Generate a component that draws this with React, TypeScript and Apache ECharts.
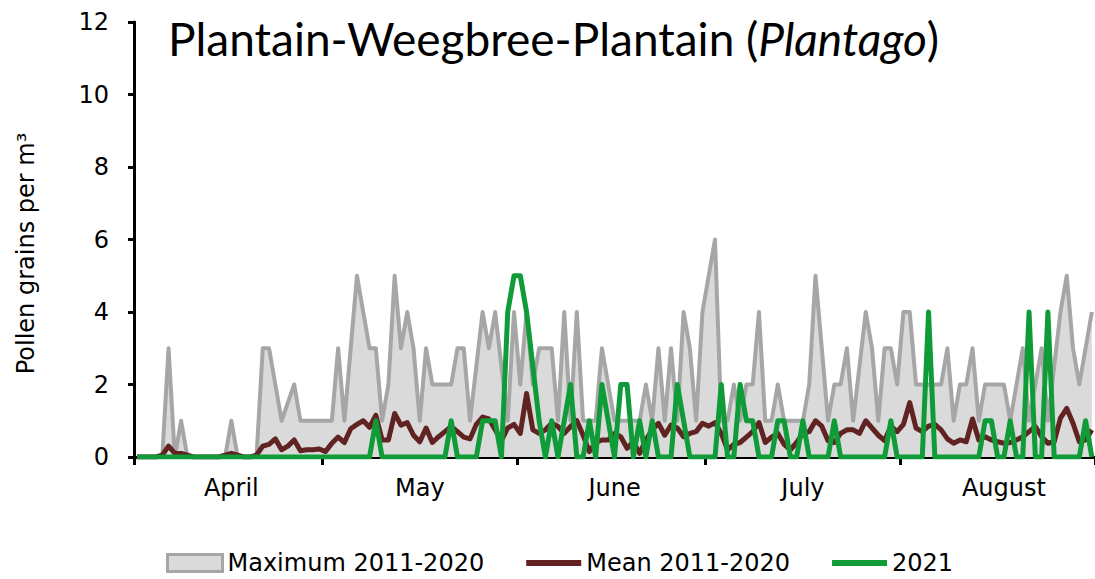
import React, { useEffect, useRef } from "react";
import * as echarts from "echarts";

const monthNames = ["April", "May", "June", "July", "August"];
const monthDays = [30, 31, 30, 31, 31];
const monthLabelDay = [15, 15, 15, 15, 16];
const yMin = 0;
const yMax = 12;
const yStep = 2;

const maxData = [
  0, 0, 0, 0, 0, 3, 0, 1, 0, 0, 0, 0, 0, 0, 0, 1, 0, 0, 0, 0,
  3, 3, 2, 1, 1.5, 2, 1, 1, 1, 1, 1, 1, 3, 1, 3, 5, 4, 3, 3, 1,
  2, 5, 3, 4, 3, 1, 3, 2, 2, 2, 2, 3, 3, 1, 2.5, 4, 3, 4, 2.5, 1,
  4, 2, 4, 2, 3, 3, 3, 1, 4, 1, 4, 1, 1, 1, 3, 2, 1, 1, 1, 1,
  1, 2, 1, 3, 1, 3, 1, 4, 3, 1, 4, 5, 6, 1, 1, 2, 1, 2, 2, 4,
  1, 1, 2, 1, 1, 1, 1, 2, 5, 3, 1, 2, 2, 3, 1, 2.5, 4, 3, 1, 3,
  3, 2, 4, 4, 2, 2, 2, 2, 2, 3, 1, 2, 2, 3, 1, 2, 2, 2, 2, 1,
  2, 3, 1, 2, 3, 1, 2.5, 4, 5, 3, 2, 3, 4,
];

const meanData = [
  0, 0, 0, 0, 0.05, 0.3, 0.1, 0.1, 0.05, 0, 0, 0, 0, 0, 0.05, 0.1, 0.05, 0, 0, 0.05,
  0.3, 0.35, 0.5, 0.2, 0.3, 0.47, 0.17, 0.2, 0.2, 0.22, 0.15, 0.38, 0.55, 0.4, 0.78, 0.9, 1.0, 0.82, 1.15, 0.47,
  0.47, 1.2, 0.88, 0.95, 0.6, 0.42, 0.8, 0.4, 0.56, 0.7, 0.84, 0.7, 0.55, 0.5, 0.9, 1.1, 1.05, 0.75, 0.45, 0.8,
  0.9, 0.65, 1.75, 0.75, 0.65, 0.75, 0.93, 0.84, 0.65, 0.84, 1.0, 0.6, 0.15, 0.4, 0.47, 0.47, 0.65, 0.56, 0.24, 0.42,
  0.1, 0.47, 0.75, 0.93, 0.6, 0.88, 0.8, 0.56, 0.65, 0.7, 0.93, 0.85, 0.95, 0.65, 0.2, 0.35, 0.4, 0.55, 0.7, 0.95,
  0.4, 0.55, 0.65, 0.35, 0.2, 0.4, 0.65, 0.7, 1.0, 0.85, 0.45, 0.4, 0.65, 0.75, 0.75, 0.65, 1.0, 0.8, 0.6, 0.45,
  0.85, 0.7, 0.9, 1.5, 0.8, 0.7, 0.85, 0.9, 0.75, 0.5, 0.38, 0.47, 0.42, 1.05, 0.47, 0.56, 0.47, 0.42, 0.38, 0.4,
  0.47, 0.56, 0.7, 0.84, 0.56, 0.38, 0.42, 1.07, 1.34, 0.93, 0.42, 0.47, 0.75,
];

const data2021 = [
  0, 0, 0, 0, 0, 0, 0, 0, 0, 0, 0, 0, 0, 0, 0, 0, 0, 0, 0, 0,
  0, 0, 0, 0, 0, 0, 0, 0, 0, 0, 0, 0, 0, 0, 0, 0, 0, 0, 1, 0,
  0, 0, 0, 0, 0, 0, 0, 0, 0, 0, 1, 0, 0, 0, 0, 1, 1, 1, 0, 4,
  5, 5, 4, 2.5, 1, 0, 1, 0, 1, 2, 0, 0, 1, 0, 2, 1, 0, 2, 2, 0,
  1, 0, 1, 0, 0, 0, 2, 1, 0, 0, 0, 0, 0, 2, 0, 0, 2, 1, 1, 0,
  0, 0, 1, 1, 0, 0, 1, 0, 0, 0, 0, 1, 0, 0, 0, 0, 0, 0, 0, 0,
  1, 0, 0, 0, 0, 0, 4, 0, 0, 0, 0, 0, 0, 0, 0, 1, 1, 0, 0, 1,
  0, 0, 4, 0, 0, 4, 0, 0, 0, 0, 0, 1, 0,
];

const categories: string[] = [];
const monthStart: number[] = [];
const labelAt: Record<number, string> = {};
monthNames.forEach((m, k) => {
  monthStart.push(categories.length);
  labelAt[categories.length + monthLabelDay[k]] = m;
  for (let d = 1; d <= monthDays[k]; d++) categories.push(`${d} ${m}`);
});

const FONT = "DejaVu Sans";
const GRAY_LINE = "#a6a6a6";
const GRAY_FILL = "#dadada";
const MEAN_COLOR = "#612222";
const GREEN = "#0f9b37";

export default function App() {
  const ref = useRef<HTMLDivElement>(null);
  useEffect(() => {
    if (!ref.current) return;
    const chart = echarts.init(ref.current, undefined, { renderer: "svg" });
    const lineIcon = "path://M0,0L55,0L55,6L0,6Z";
    chart.setOption({
      animation: false,
      textStyle: { fontFamily: FONT },
      title: {
        text: "{n|Plantain-Weegbree-Plantain (}{i|Plantago}{n|)}",
        left: 163,
        top: 10,
        textStyle: {
          fontWeight: "normal",
          rich: {
            n: { fontFamily: "Lato", fontWeight: "normal", fontSize: 46, color: "#000" },
            i: { fontFamily: "Lato", fontWeight: "normal", fontStyle: "italic", fontSize: 46, color: "#000" },
          },
        },
      },
      grid: { left: 134, top: 22, width: 964, height: 435, containLabel: false },
      legend: {
        left: 161,
        top: 546,
        itemWidth: 55,
        itemHeight: 17,
        itemGap: 42,
        textStyle: { fontFamily: FONT, fontSize: 24, lineHeight: 24, color: "#000" },
        data: [
          {
            name: "Maximum 2011-2020",
            icon: "rect",
            itemStyle: { color: GRAY_FILL, borderColor: GRAY_LINE, borderWidth: 3 },
          },
          { name: "Mean 2011-2020", icon: lineIcon, itemStyle: { color: MEAN_COLOR, borderWidth: 0 } },
          { name: "2021", icon: lineIcon, itemStyle: { color: GREEN, borderWidth: 0 } },
        ],
      },
      xAxis: {
        type: "category",
        data: categories,
        boundaryGap: true,
        axisLine: { lineStyle: { color: "#000", width: 3 } },
        axisTick: {
          show: true,
          interval: (i: number) => monthStart.includes(i),
          length: 8,
          lineStyle: { color: "#000", width: 3 },
        },
        axisLabel: {
          interval: (i: number) => labelAt[i] !== undefined,
          formatter: (_v: string, i: number) => labelAt[i] ?? "",
          color: "#000",
          fontFamily: FONT,
          fontSize: 24,
          margin: 19,
        },
        splitLine: { show: false },
      },
      yAxis: {
        type: "value",
        min: yMin,
        max: yMax,
        interval: yStep,
        name: "Pollen grains per m³",
        nameLocation: "middle",
        nameGap: 96,
        nameTextStyle: { fontFamily: FONT, fontSize: 24, color: "#000", padding: [0, 28, 0, 0] },
        axisLine: { show: true, lineStyle: { color: "#000", width: 3 } },
        axisTick: { show: true, length: 6, lineStyle: { color: "#000", width: 3 } },
        axisLabel: { color: "#000", fontFamily: FONT, fontSize: 24, margin: 25 },
        splitLine: { show: false },
      },
      series: [
        {
          name: "Maximum 2011-2020",
          type: "line",
          data: maxData,
          symbol: "none",
          lineStyle: { color: GRAY_LINE, width: 4, join: "round" },
          itemStyle: { color: GRAY_LINE },
          areaStyle: { color: GRAY_FILL, opacity: 1 },
          z: 1,
        },
        {
          name: "Mean 2011-2020",
          type: "line",
          data: meanData,
          symbol: "none",
          lineStyle: { color: MEAN_COLOR, width: 5, join: "round" },
          itemStyle: { color: MEAN_COLOR },
          z: 2,
        },
        {
          name: "2021",
          type: "line",
          data: data2021,
          symbol: "none",
          lineStyle: { color: GREEN, width: 5, join: "round" },
          itemStyle: { color: GREEN },
          z: 3,
        },
      ],
    });
    return () => chart.dispose();
  }, []);
  return (
    <div
      ref={ref}
      style={{ position: "absolute", left: 0, top: 0, width: 1095, height: 579 }}
    />
  );
}
